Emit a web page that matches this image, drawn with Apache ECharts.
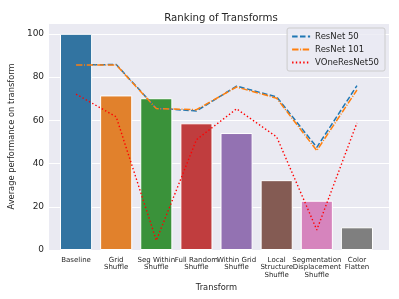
<!DOCTYPE html>
<html><head><meta charset="utf-8">
<script src="https://cdn.jsdelivr.net/npm/echarts@6/dist/echarts.min.js"></script>
<style>html,body{margin:0;padding:0;background:#fff}#c{width:399px;height:299px}</style>
</head><body><div id="c"></div>
<script>
const categories = ["Baseline","Grid\nShuffle","Seg Within\nShuffle","Full Random\nShuffle","Within Grid\nShuffle","Local\nStructure\nShuffle","Segmentation\nDisplacement\nShuffle","Color\nFlatten"];
const barValues = [100, 71.5, 70.2, 58.6, 54.1, 32.3, 22.8, 10.5];
const barColors = ["#3274a1","#e1812c","#3a923a","#c03d3e","#9372b2","#845b53","#d684bd","#7f7f7f"];
const resnet50 = [85.6, 85.8, 65.6, 64.3, 75.8, 70.8, 47.5, 76.0];
const resnet101 = [85.6, 85.6, 65.4, 64.9, 75.4, 70.2, 46.0, 74.0];
const vone = [72.1, 61.6, 4.4, 51.0, 65.3, 52.3, 9.3, 58.8];
const yTicks = [0, 20, 40, 60, 80, 100];

const chart = echarts.init(document.getElementById('c'), null, {renderer:'canvas'});
const font = 'DejaVu Sans';
const txt = '#262626';
chart.setOption({
  animation:false,
  backgroundColor:'#ffffff',
  textStyle:{fontFamily:font},
  title:{text:'Ranking of Transforms', left:216, top:8, textAlign:'center',
    textStyle:{fontSize:10.2, fontWeight:'normal', color:txt, fontFamily:font}},
  grid:[
    {left:44, right:10, top:23, bottom:49, backgroundColor:'#eaeaf2', show:true, borderWidth:0},
    {left:56, right:22, top:23, bottom:49, show:false}
  ],
  legend:{
    orient:'vertical', right:14, top:28, itemWidth:18, itemHeight:8, itemGap:4,
    backgroundColor:'rgba(234,234,242,0.8)', borderColor:'#cccccc', borderWidth:1, borderRadius:2,
    padding:[4,6,4,4],
    itemStyle:{opacity:0},
    textStyle:{fontSize:8.5, color:txt, fontFamily:font},
    data:['ResNet 50','ResNet 101','VOneResNet50']
  },
  xAxis:[
    {gridIndex:0, type:'category', data:categories, show:false},
    {gridIndex:1, type:'category', data:categories, boundaryGap:true,
    name:'Transform', nameLocation:'middle', nameGap:31,
    nameTextStyle:{fontSize:8.3, color:txt, fontFamily:font},
    axisLine:{show:false}, axisTick:{show:false},
    axisLabel:{fontSize:7, color:txt, interval:0, margin:6, lineHeight:7.7, fontFamily:font},
    splitLine:{show:false}}
  ],
  yAxis:[
    {gridIndex:0, type:'value', min:0, max:105, interval:20,
    name:'Average performance on transform', nameLocation:'middle', nameGap:29,
    nameTextStyle:{fontSize:8.3, color:txt, fontFamily:font},
    axisLine:{show:false}, axisTick:{show:false},
    axisLabel:{fontSize:9, color:txt, margin:5, fontFamily:font,
      formatter:v => yTicks.indexOf(v) >= 0 ? String(v) : ''},
    splitLine:{lineStyle:{color:'#ffffff', width:1}}},
    {gridIndex:1, type:'value', min:0, max:105, interval:20, show:false, splitLine:{show:false}}
  ],
  series:[
    {type:'bar', xAxisIndex:1, yAxisIndex:1,
     data:barValues.map((v,i)=>({value:v, itemStyle:{color:barColors[i]}})),
     barCategoryGap:'20%', itemStyle:{borderColor:'#ffffff', borderWidth:1}, z:2},
    {name:'ResNet 50', type:'line', xAxisIndex:1, yAxisIndex:1, data:resnet50, symbol:'none', z:5,
     itemStyle:{color:'#1f77b4'}, lineStyle:{color:'#1f77b4', width:1.5, type:[5.5,2.4]}},
    {name:'ResNet 101', type:'line', xAxisIndex:1, yAxisIndex:1, data:resnet101, symbol:'none', z:6,
     itemStyle:{color:'#ff7f0e'}, lineStyle:{color:'#ff7f0e', width:1.5, type:[6.4,1.6,1,1.6]}},
    {name:'VOneResNet50', type:'line', xAxisIndex:1, yAxisIndex:1, data:vone, symbol:'none', z:7,
     itemStyle:{color:'#ff0000'}, lineStyle:{color:'#ff0000', width:1.4, type:[1.4,2.3]}}
  ]
});
</script></body></html>
